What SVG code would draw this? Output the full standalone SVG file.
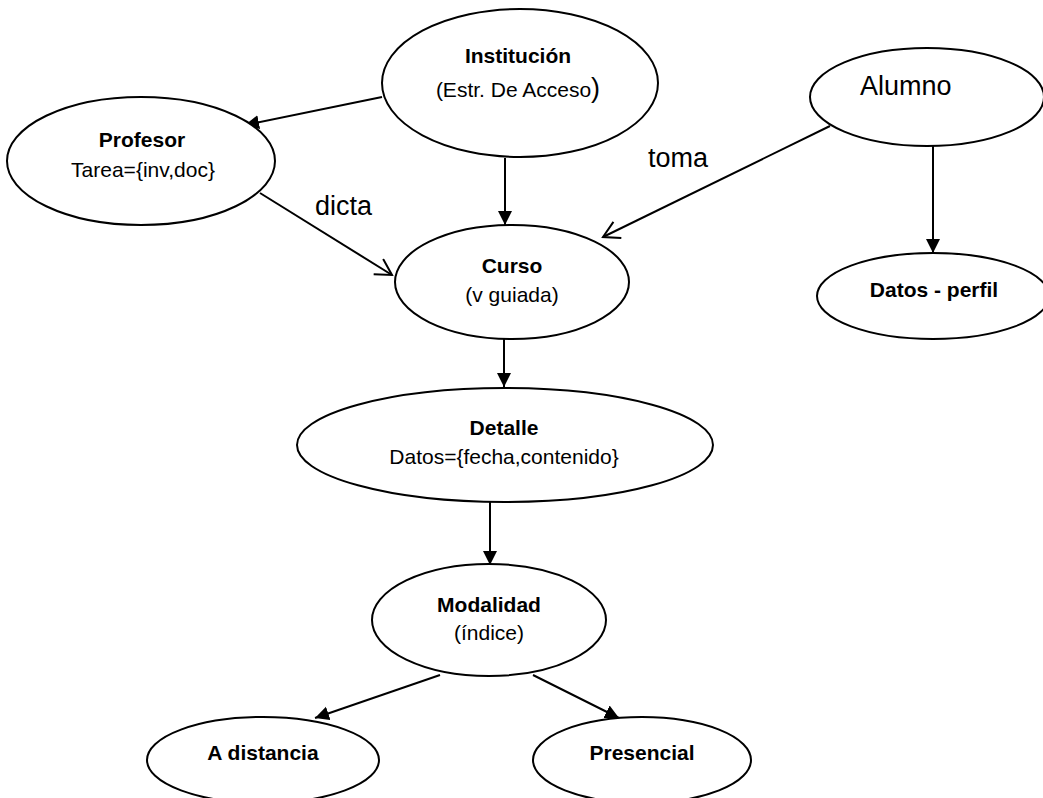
<svg xmlns="http://www.w3.org/2000/svg" width="1043" height="798" viewBox="0 0 1043 798">
<style>
.n{fill:#fff;stroke:#000;stroke-width:2}
.t{font-family:"Liberation Sans",Arial,sans-serif;font-size:21px;fill:#000;text-anchor:middle}
.b{font-weight:bold}
.lbl{font-family:"Liberation Sans",Arial,sans-serif;font-size:27px;fill:#000}
.c{stroke:#000;stroke-width:2;fill:none}
.f{marker-end:url(#fa)}
.o{marker-end:url(#oa)}
</style>
<defs>
<marker id="fa" markerUnits="userSpaceOnUse" markerWidth="16" markerHeight="16" refX="14" refY="7" orient="auto">
<path d="M0,0 L14,7 L0,14 z" fill="#000"/>
</marker>
<marker id="oa" markerUnits="userSpaceOnUse" markerWidth="20" markerHeight="22" refX="17" refY="10" orient="auto">
<path d="M1,1 L17,10 L1,19" fill="none" stroke="#000" stroke-width="2"/>
</marker>
</defs>
<rect width="1043" height="798" fill="#fff"/>
<g id="connectors">
<line class="c f" x1="382" y1="97" x2="245" y2="125"/>
<line class="c o" x1="260" y1="193" x2="392" y2="275"/>
<line class="c f" x1="505" y1="158" x2="505" y2="225"/>
<line class="c o" x1="830" y1="126" x2="603" y2="237"/>
<line class="c f" x1="933" y1="146" x2="933" y2="253"/>
<line class="c f" x1="504" y1="339" x2="504" y2="387"/>
<line class="c f" x1="490" y1="502" x2="490" y2="565"/>
<line class="c f" x1="440" y1="675" x2="315" y2="718"/>
<line class="c f" x1="533" y1="675" x2="619" y2="718"/>
<text class="lbl" x="315" y="215">dicta</text>
<text class="lbl" x="648" y="167">toma</text>
</g>
<g id="institucion">
<ellipse class="n" cx="520" cy="83" rx="138" ry="74"/>
<text class="t b" x="518" y="63">Institución</text>
<text class="t" x="518" y="97">(Estr. De Acceso<tspan font-size="27">)</tspan></text>
</g>
<g id="profesor">
<ellipse class="n" cx="141" cy="161" rx="134" ry="64"/>
<text class="t b" x="142" y="147">Profesor</text>
<text class="t" x="143" y="177">Tarea={inv,doc}</text>
</g>
<g id="alumno">
<ellipse class="n" cx="927" cy="97" rx="117" ry="49"/>
<text class="lbl" x="860" y="95">Alumno</text>
</g>
<g id="datos-perfil">
<ellipse class="n" cx="933" cy="296" rx="116" ry="43"/>
<text class="t b" x="934" y="297">Datos - perfil</text>
</g>
<g id="curso">
<ellipse class="n" cx="512" cy="282" rx="117" ry="57"/>
<text class="t b" x="512" y="273">Curso</text>
<text class="t" x="512" y="302">(v guiada)</text>
</g>
<g id="detalle">
<ellipse class="n" cx="505" cy="445" rx="208" ry="57"/>
<text class="t b" x="504" y="435">Detalle</text>
<text class="t" x="504" y="464">Datos={fecha,contenido}</text>
</g>
<g id="modalidad">
<ellipse class="n" cx="489" cy="620" rx="117" ry="56"/>
<text class="t b" x="489" y="612">Modalidad</text>
<text class="t" x="489" y="640">(índice)</text>
</g>
<g id="a-distancia">
<ellipse class="n" cx="263" cy="760" rx="116" ry="43"/>
<text class="t b" x="263" y="760">A distancia</text>
</g>
<g id="presencial">
<ellipse class="n" cx="642" cy="760" rx="109" ry="43"/>
<text class="t b" x="642" y="760">Presencial</text>
</g>
</svg>
